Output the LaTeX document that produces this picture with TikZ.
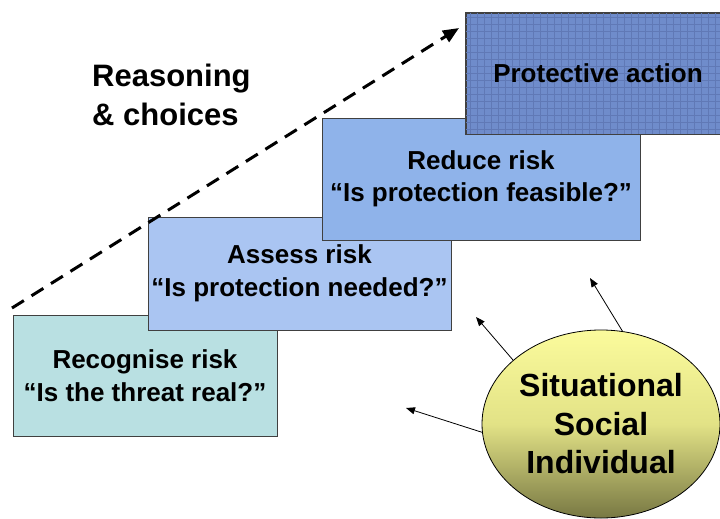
\documentclass[tikz,border=0pt]{standalone}
\usepackage{fontspec}
\setmainfont{Liberation Sans}
\usetikzlibrary{shapes.geometric,arrows.meta}
\definecolor{recogfill}{HTML}{B9E0E2}
\definecolor{assessfill}{HTML}{AAC5F2}
\definecolor{reducefill}{HTML}{8FB3EA}
\definecolor{actfill}{HTML}{6F8CCB}
\definecolor{actgrid}{HTML}{6079B6}
\definecolor{edgegray}{HTML}{404040}
\definecolor{ovtop}{HTML}{FBFB9C}
\definecolor{ovmid}{HTML}{E2E286}
\definecolor{ovbot}{HTML}{787843}
\tikzset{
  stepbox/.style={draw=edgegray, line width=0.8pt, rectangle, inner sep=0pt,
    align=center, font=\fontsize{26}{32.5}\selectfont\bfseries},
  influence/.style={draw=black, line width=0.8pt, -{Triangle[length=9pt,width=7pt]}},
}
\begin{document}
\begin{tikzpicture}[x=1pt,y=-1pt]
\useasboundingbox (0,0) rectangle (720,519);
\fill[white] (0,0) rectangle (720,519);

% the four steps, lower ones drawn first
\node[stepbox, fill=recogfill, minimum width=264pt, minimum height=121pt]
  (recog) at (145,375.5) {Recognise risk\\“Is the threat real?”};
\node[stepbox, fill=assessfill, minimum width=303pt, minimum height=113pt]
  (assess) at (299.5,273.5) {Assess risk\\“Is protection needed?”};
\node[stepbox, fill=reducefill, minimum width=318pt, minimum height=122pt]
  (reduce) at (481,179) {Reduce risk\\“Is protection feasible?”};
\node[stepbox, fill=actfill, minimum width=264pt, minimum height=121pt]
  (act) at (598,73.5) {};
\begin{scope}
  \clip (466,13) rectangle (730,134);
  \foreach \gx in {470,477,...,730} \draw[actgrid, line width=0.5pt] (\gx,13) -- (\gx,134);
  \foreach \gy in {17,24,...,134} \draw[actgrid, line width=0.5pt] (466,\gy) -- (730,\gy);
\end{scope}
\draw[edgegray, line width=0.8pt] (act.south west) rectangle (act.north east);
\node[font=\fontsize{26}{31}\selectfont\bfseries] (actlabel) at (act.center) {Protective action};

% rising trend of reasoning
\coordinate (trendstart) at (12,308);
\coordinate (trendend) at (459,28);
\draw[line width=3pt, dash pattern=on 14pt off 9pt, -{Triangle[length=16pt,width=13pt]}]
  (trendstart) -- (trendend);
\node[anchor=north west, align=left, inner sep=0pt,
  font=\fontsize{31}{38.5}\selectfont\bfseries] (reasoning) at (92,64) {Reasoning\\\& choices};

% factors shaping each step
\node[ellipse, draw=black, line width=0.8pt, minimum width=238pt, minimum height=188pt,
  inner sep=0pt, top color=ovtop, bottom color=ovbot, middle color=ovmid,
  align=center, font=\fontsize{32}{38.5}\selectfont\bfseries]
  (factors) at (601,424) {Situational\\Social\\Individual};
\coordinate (toassess) at (476,317);
\coordinate (toreduce) at (590,278);
\coordinate (torecog) at (406,408);
\draw[influence] (factors.144.3) -- (toassess);
\draw[influence] (factors.77.4) -- (toreduce);
\draw[influence] (factors.184.8) -- (torecog);
\end{tikzpicture}
\end{document}
